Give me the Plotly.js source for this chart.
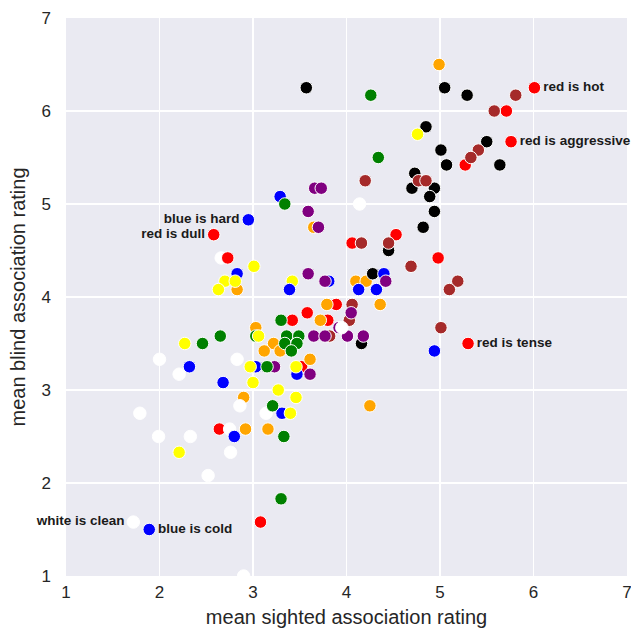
<!DOCTYPE html>
<html>
<head>
<meta charset="utf-8">
<script src="https://cdn.plot.ly/plotly-3.0.1.min.js"></script>
<style>
  html, body { margin: 0; padding: 0; background: #ffffff; }
  #chart { width: 631px; height: 637px; }
</style>
</head>
<body>
<div id="chart"></div>
<script>
// Points in drawing order (later points sit on top of earlier ones)
const pointColour = [
  "white",
  "red","red","red","red","red","red","red","red","red","red","red","red","red","red","red","red","red",
  "orange","orange","orange","orange","orange","orange","orange","orange","orange","orange","orange","orange","orange","orange","orange","orange","orange",
  "black","black","black","black","black","black","black","black","black","black","black","black","black","black","black","black","black",
  "brown","brown","brown","brown","brown","brown","brown","brown","brown","brown","brown","brown","brown","brown","brown","brown",
  "blue","blue","blue","blue","blue","blue","blue","blue","blue","blue","blue","blue","blue","blue",
  "purple","purple","purple","purple","purple","purple","purple","purple","purple","purple","purple","purple","purple","purple","purple",
  "white","white","white","white","white","white","white","white","white","white","white","white","white","white","white",
  "blue",
  "green","green","green","green","green","green","green","green","green","green","green","green","green","green","green","green",
  "yellow","yellow","yellow","yellow","yellow","yellow","yellow","yellow","yellow","yellow","yellow","yellow","yellow","yellow","yellow",
  "blue"
];

const sightedMean = [
  2.66,
  6.01,5.71,5.76,5.27,4.53,4.06,4.98,2.58,2.73,3.89,3.58,3.42,3.80,5.30,3.52,2.64,3.08,
  4.99,3.65,2.83,4.10,4.21,3.79,4.36,3.72,3.03,3.22,3.12,3.29,3.61,2.90,4.25,2.92,3.16,
  3.57,5.05,5.29,4.85,5.50,5.01,5.07,5.64,4.73,4.70,4.94,4.89,4.94,4.82,4.45,4.28,4.16,
  5.81,5.58,5.41,5.33,4.20,4.77,4.85,4.16,4.45,4.69,5.19,5.10,4.06,4.03,5.01,3.82,
  3.29,2.95,2.83,3.81,4.40,4.13,4.32,4.94,2.32,2.68,3.03,3.47,3.31,1.89,
  3.66,3.73,3.59,3.70,3.59,3.77,4.42,4.05,3.92,3.65,3.77,4.01,4.18,3.23,3.61,
  4.14,3.95,2.00,2.83,2.21,1.79,2.86,3.14,1.99,2.33,2.75,2.76,2.52,1.72,2.90,
  2.80,
  4.26,4.34,3.34,3.30,2.65,2.46,3.03,3.36,3.49,3.34,3.47,3.41,3.15,3.21,3.33,3.30,
  4.76,3.01,3.42,2.70,2.81,2.63,2.27,3.06,2.97,3.46,3.00,3.27,3.46,3.40,2.21,
  3.39
];

const blindMean = [
  4.42,
  6.25,6.00,5.67,5.42,4.67,4.58,4.42,4.67,4.42,3.92,3.83,3.75,3.75,3.50,3.25,2.58,1.58,
  6.50,4.75,4.08,4.17,4.17,3.92,3.92,3.75,3.67,3.50,3.42,3.42,3.33,2.92,2.83,2.58,2.58,
  6.25,6.25,6.17,5.83,5.67,5.58,5.42,5.42,5.33,5.17,5.17,5.08,4.92,4.75,4.50,4.25,3.50,
  6.17,6.00,5.58,5.50,5.25,5.25,5.25,4.58,4.58,4.33,4.17,4.08,3.92,3.75,3.67,3.58,
  5.08,4.83,4.25,4.17,4.25,4.08,4.08,3.42,3.25,3.08,3.25,3.17,2.75,1.50,
  5.17,5.17,4.92,4.75,4.25,4.17,4.17,3.83,3.67,3.58,3.58,3.58,3.58,3.25,3.17,
  5.00,3.67,3.33,3.33,3.17,2.75,2.83,2.75,2.50,2.50,2.58,2.33,2.08,1.58,1.00,
  2.50,
  6.17,5.50,5.00,3.75,3.58,3.50,3.58,3.58,3.58,3.50,3.50,3.42,3.25,2.83,2.50,1.83,
  5.75,4.33,4.17,4.17,4.17,4.08,3.50,3.58,3.25,3.25,3.08,3.00,2.92,2.75,2.33,
  4.08
];

// Association names shown next to a few points ("" = no label)
const labelNames = ["red is hot","red is aggressive","red is dull","red is tense","blue is hard","blue is cold","white is clean"];
const labelAt    = [1, 3, 8, 14, 69, 81, 110];
const leftLabels = ["red is dull","blue is hard","white is clean"];
const pointLabel = sightedMean.map(() => "");
labelAt.forEach((idx, k) => { pointLabel[idx] = labelNames[k]; });

const axisTicks = [1, 2, 3, 4, 5, 6, 7];

const textPos = pointLabel.map(t => leftLabels.includes(t) ? "middle left" : "middle right");

const trace = {
  type: "scatter",
  mode: "markers+text",
  x: sightedMean,
  y: blindMean,
  text: pointLabel,
  textposition: textPos,
  textfont: { family: "Liberation Sans, Arial, sans-serif", size: 13.5, color: "#1a1a1a", weight: "bold" },
  cliponaxis: false,
  marker: {
    size: 12.5,
    color: pointColour,
    line: { color: "#ffffff", width: 1 }
  },
  hoverinfo: "x+y+text",
  showlegend: false
};

const axisCommon = {
  range: [1, 7],
  tickvals: axisTicks,
  ticktext: axisTicks.map(String),
  showgrid: true,
  gridcolor: "#ffffff",
  gridwidth: 1.5,
  zeroline: false,
  showline: false,
  ticks: "",
  ticklabeloverflow: "allow",
  tickfont: { family: "Liberation Sans, Arial, sans-serif", size: 17, color: "#262626" },
  automargin: false
};

const layout = {
  width: 631,
  height: 637,
  margin: { l: 66, r: 4, t: 18, b: 61 },
  paper_bgcolor: "#ffffff",
  plot_bgcolor: "#EAEAF2",
  font: { family: "Liberation Sans, Arial, sans-serif", color: "#262626" },
  xaxis: Object.assign({}, axisCommon, {
    ticklabelstandoff: 4,
    title: { text: "mean sighted association rating", font: { size: 20, color: "#262626" }, standoff: 8 }
  }),
  yaxis: Object.assign({}, axisCommon, {
    ticklabelstandoff: 14,
    title: { text: "mean blind association rating", font: { size: 20, color: "#262626" }, standoff: 10 }
  })
};

Plotly.newPlot("chart", [trace], layout, { staticPlot: true, displayModeBar: false });
</script>
</body>
</html>
